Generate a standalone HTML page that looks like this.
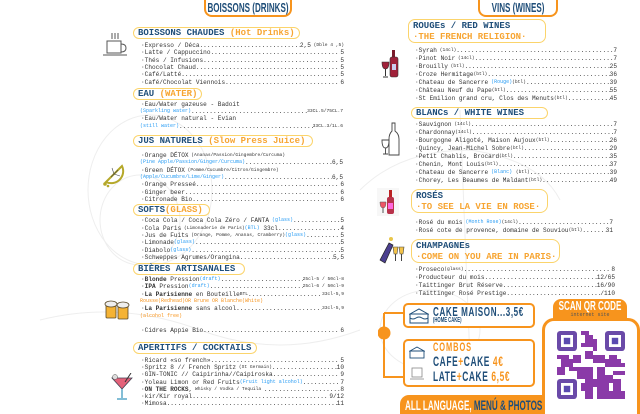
<!DOCTYPE html>
<html><head><meta charset="utf-8">
<style>
*{margin:0;padding:0;box-sizing:border-box}
body{width:640px;height:414px;overflow:hidden;background:#fff;position:relative;font-family:"Liberation Mono",monospace;color:#222}
.a{position:absolute}
.r{position:absolute;display:flex;white-space:nowrap;font-size:6.1px;line-height:7px;height:7px;color:#333}
.L{left:141px;width:203px}
.R{left:415px;width:202px}
.f{flex:1;overflow:hidden}
.f::after{content:"......................................................................................................................................................"}
.b{color:#2a9df4;font-size:5px}
.o{color:#f7941d;font-size:5px}
.s{font-size:4.6px}
.pill{position:absolute;border:1.3px solid #fbd46b;border-radius:8px;font-weight:bold;font-size:9px;line-height:10px;color:#1f4e79;padding:0 4px;white-space:nowrap}
.pill i{font-style:normal;color:#f7a532}
.tab{position:absolute;border:2px solid #f7941d;border-top:none;border-radius:0 0 8px 8px;background:#fff}
.cf{font-family:"Liberation Sans",sans-serif;font-weight:bold;white-space:nowrap}
.cc{position:absolute;left:50%;transform:translateX(-50%) scaleX(.62);white-space:nowrap}
.cond{font-family:"Liberation Sans",sans-serif;font-weight:bold;display:inline-block;transform:scaleX(.68);transform-origin:left center;white-space:nowrap}
.box{position:absolute;border:2.5px solid #f7941d;border-radius:5px;background:#fff}
</style></head><body>

<svg class="a" style="left:0;top:0" width="640" height="414">
<g fill="none" stroke="#eee" stroke-width="1">
<ellipse cx="150" cy="190" rx="62" ry="75"/>
<ellipse cx="140" cy="220" rx="40" ry="45"/>
<path d="M40 320 Q120 300 200 330 T360 330"/>
<ellipse cx="430" cy="330" rx="50" ry="40"/>
<path d="M360 190 Q400 150 470 150 Q540 160 560 200"/>
<path d="M460 110 L470 360"/>
</g></svg>

<div class="tab" style="left:204px;top:0;width:88px;height:17px"><div class="cc cf" style="top:0;font-size:13px;line-height:15px;color:#1f4e79">BOISSONS (DRINKS)</div></div>
<div class="tab" style="left:478px;top:0;width:80px;height:17px"><div class="cc cf" style="top:0;font-size:13px;line-height:15px;color:#1f4e79">VINS (WINES)</div></div>

<!-- LEFT COLUMN -->
<div class="pill" style="left:133px;top:27px;width:167px;height:12px">BOISSONS CHAUDES <i>(Hot Drinks)</i></div>
<div class="r L" style="top:42px">·Expresso / Déca<span class="f"></span>2,5 <span class="s">&nbsp;(Dble 4 ,5)</span></div>
<div class="r L" style="top:49px">·Latte / Cappuccino<span class="f"></span>5</div>
<div class="r L" style="top:57px">·Thés / Infusions<span class="f"></span>5</div>
<div class="r L" style="top:64px">·Chocolat Chaud<span class="f"></span>5</div>
<div class="r L" style="top:71px">·Café/Latté<span class="f"></span>5</div>
<div class="r L" style="top:79px">·Café/Chocolat Viennois<span class="f"></span>6</div>

<div class="pill" style="left:133px;top:88px;width:69px;height:12px">EAU <i>(WATER)</i></div>
<div class="r L" style="top:101px">·Eau/Water gazeuse - Badoit</div>
<div class="r L" style="top:108px;left:140px"><span class="b">(Sparkling water)</span><span class="f"></span><span class="s">33CL.5/75CL.7</span></div>
<div class="r L" style="top:115px">·Eau/Water natural - Evian</div>
<div class="r L" style="top:123px;left:140px"><span class="b">(still water)</span><span class="f"></span><span class="s">33CL.3/1L.6</span></div>

<div class="pill" style="left:133px;top:135px;width:180px;height:12px">JUS NATURELS <i>(Slow Press Juice)</i></div>
<div class="r L" style="top:152px">·Orange DÉTOX <span class="s">&nbsp;(Ananas/Passion/Gingembre/Curcuma)</span></div>
<div class="r L" style="top:159px;left:140px"><span class="b">(Pine Apple/Passion/Ginger/Curcuma)</span><span class="f"></span>6,5</div>
<div class="r L" style="top:167px">·Green DÉTOX <span class="s">&nbsp;(Pomme/Cucumbre/Citron/Gingembre)</span></div>
<div class="r L" style="top:174px;left:140px"><span class="b">(Apple/Cucumbre/Lime/Ginger)</span><span class="f"></span>6,5</div>
<div class="r L" style="top:181px">·Orange Presseé<span class="f"></span>6</div>
<div class="r L" style="top:189px">·Ginger beer<span class="f"></span>6</div>
<div class="r L" style="top:196px">·Citronade Bio<span class="f"></span>6</div>

<div class="pill" style="left:133px;top:204px;width:77px;height:12px">SOFTS<i>(GLASS)</i></div>
<div class="r L" style="top:217px">·Coca Cola / Coca Cola Zéro / FANTA <span class="b">&nbsp;(glass)</span><span class="f"></span>5</div>
<div class="r L" style="top:225px">·Cola Paris <span class="s">&nbsp;(Limonaderie de Paris)</span><span class="b">(BTL)</span>&nbsp;33cl<span class="f"></span>4</div>
<div class="r L" style="top:232px">·Jus de Fuits <span class="s">&nbsp;(Orange, Pomme, Ananas, Cramberry)</span><span class="b">(glass)</span><span class="f"></span>5</div>
<div class="r L" style="top:239px">·Limonade<span class="b">(glass)</span><span class="f"></span>5</div>
<div class="r L" style="top:247px">·Diabolo<span class="b">(glass)</span><span class="f"></span>5</div>
<div class="r L" style="top:254px">·Schweppes Agrumes/Orangina<span class="f"></span>5,5</div>

<div class="pill" style="left:133px;top:263px;width:112px;height:12px">BIÈRES ARTISANALES</div>
<div class="r L" style="top:276px">·<b>Blonde</b>&nbsp;Pression<span class="b">(draft)</span><span class="f"></span><span class="s">25cl-5 / 50cl-8</span></div>
<div class="r L" style="top:283px">·<b>IPA</b>&nbsp;Pression<span class="b">(draft)</span><span class="f"></span><span class="s">25cl-6 / 50cl-9</span></div>
<div class="r L" style="top:291px">·<b>La Parisienne</b>&nbsp;en Bouteille <span class="s">BTL</span><span class="f"></span><span class="s">33cl-5,9</span></div>
<div class="r L" style="top:298px;left:140px"><span class="o">Rousse(Redhead)OR Brune OR Blanche(White)</span></div>
<div class="r L" style="top:305px">·<b>La Parisienne</b>&nbsp;sans alcool<span class="f"></span><span class="s">33cl-5,9</span></div>
<div class="r L" style="top:313px;left:140px"><span class="o">(alcohol free)</span></div>
<div class="r L" style="top:327px">·Cidres Appie Bio<span class="f"></span>6</div>

<div class="pill" style="left:133px;top:342px;width:124px;height:12px">APERITIFS / COCKTAILS</div>
<div class="r L" style="top:357px">·Ricard «so french»<span class="f"></span>5</div>
<div class="r L" style="top:364px">·Spritz 8 // French Spritz <span class="s">&nbsp;(St Germain)</span><span class="f"></span>10</div>
<div class="r L" style="top:371px">·GIN-TONIC // Caipirinha//Caipiroska<span class="f"></span>9</div>
<div class="r L" style="top:379px">·Yoleau Limon or Red Fruits<span class="b">(Fruit light alcohol)</span><span class="f"></span>7</div>
<div class="r L" style="top:386px">·<b>ON THE ROCKS</b>, <span class="s">&nbsp;Whisky / Vodka / Tequila&nbsp;</span><span class="f"></span>8</div>
<div class="r L" style="top:393px">·kir/Kir royal <span class="f"></span>9/12</div>
<div class="r L" style="top:400px">·Mimosa <span class="f"></span>11</div>

<!-- left icons -->
<svg class="a" style="left:102px;top:32px" width="28" height="26"><g stroke="#555" fill="none" stroke-width="1"><path d="M10 1v6M13 1v6M16 1v6"/><rect x="5" y="9" width="14" height="12" fill="#fff"/><path d="M19 12 q5 0 5 4 q0 4-5 4"/><path d="M1 23h24"/></g></svg>
<svg class="a" style="left:101px;top:163px" width="24" height="25"><path d="M5 19 L21 3 A12 12 0 0 1 5 19Z" fill="#fff" stroke="#b5a82a" stroke-width="2"/><path d="M10 14 L17 7 M13 11 L19 13 M13 11 L11 5" stroke="#444" stroke-width=".6"/><circle cx="4" cy="21" r="1.8" fill="#b5a82a"/><circle cx="7" cy="23" r="1.3" fill="#b5a82a"/></svg>
<svg class="a" style="left:103px;top:299px" width="29" height="23"><g stroke="#5a4a2a" stroke-width=".8"><rect x="3" y="6" width="10" height="13" rx="1" fill="#f5b335"/><rect x="15" y="7" width="10" height="13" rx="1" fill="#f5b335"/><ellipse cx="8" cy="5" rx="6" ry="3" fill="#eee"/><ellipse cx="20" cy="6" rx="6" ry="3" fill="#eee"/></g></svg>
<svg class="a" style="left:110px;top:373px" width="24" height="28"><path d="M2 5 L22 5 L12 16Z" fill="#e4627a" stroke="#445" stroke-width=".8"/><path d="M12 16 V25 M7 26 H17" stroke="#5aa8c8" stroke-width="1.5"/><circle cx="5" cy="4" r="2.5" fill="#ddd" stroke="#555" stroke-width=".5"/><path d="M15 9 L21 0" stroke="#333"/></svg>

<!-- RIGHT COLUMN -->
<div class="pill" style="left:408px;top:19px;width:138px;height:24px;border-radius:7px;line-height:11px;padding-top:1px">ROUGEs / RED WINES<br><i>·THE FRENCH RELIGION·</i></div>
<div class="r R" style="top:47px">·Syrah <span class="s">&nbsp;(14cl)</span><span class="f"></span>7</div>
<div class="r R" style="top:55px">·Pinot Noir <span class="s">&nbsp;(14cl)</span><span class="f"></span>7</div>
<div class="r R" style="top:63px">·Brouilly <span class="s">&nbsp;(btl)</span><span class="f"></span>25</div>
<div class="r R" style="top:71px">·Croze Hermitage <span class="s">(btl)</span><span class="f"></span>36</div>
<div class="r R" style="top:79px">·Chateau de Sancerre <span class="b">&nbsp;(Rouge)</span><span class="s">(btl)</span><span class="f"></span>39</div>
<div class="r R" style="top:87px">·Château Neuf du Pape <span class="s">(btl)</span><span class="f"></span>55</div>
<div class="r R" style="top:95px">·St Emilion grand cru, Clos des Menuts<span class="s">(btl)</span><span class="f"></span>45</div>

<div class="pill" style="left:411px;top:107px;width:137px;height:12px">BLANCs / WHITE WINES</div>
<div class="r R" style="top:121px">·Sauvignon <span class="s">&nbsp;(14cl)</span><span class="f"></span>7</div>
<div class="r R" style="top:129px">·Chardonnay<span class="s">(14cl)</span><span class="f"></span>7</div>
<div class="r R" style="top:137px">·Bourgogne Aligoté, Maison Aujoux <span class="s">(btl)</span><span class="f"></span>26</div>
<div class="r R" style="top:145px">·Quincy, Jean-Michel Sobre <span class="s">(btl)</span><span class="f"></span>29</div>
<div class="r R" style="top:153px">·Petit Chablis, Brocard <span class="s">(btl)</span><span class="f"></span>35</div>
<div class="r R" style="top:161px">·Chenin, Mont Louis <span class="s">(btl)</span><span class="f"></span>37</div>
<div class="r R" style="top:169px">·Chateau de Sancerre <span class="b">&nbsp;(Blanc)</span>&nbsp;<span class="s">(btl)</span><span class="f"></span>39</div>
<div class="r R" style="top:177px">·Chorey, Les Beaumes de Maldant <span class="s">(btl)</span><span class="f"></span>49</div>

<div class="pill" style="left:411px;top:189px;width:137px;height:24px;line-height:11px;padding-top:1px">ROSÉS<br><i>·TO SEE LA VIE EN ROSE·</i></div>
<div class="r R" style="top:219px;width:198px">·Rosé du mois <span class="b">&nbsp;(Month Rose)</span><span class="s">(14cl)</span><span class="f"></span>7</div>
<div class="r R" style="top:227px;width:198px">·Rosé cote de provence, domaine de Souviou <span class="s">(btl)</span><span class="f"></span>31</div>

<div class="pill" style="left:411px;top:239px;width:149px;height:24px;line-height:11px;padding-top:1px">CHAMPAGNEs<br><i>·COME ON YOU ARE IN PARIS·</i></div>
<div class="r R" style="top:266px;width:200px">·Proseco<span class="s">(glass)</span><span class="f"></span>8</div>
<div class="r R" style="top:274px;width:200px">·Producteur du mois<span class="f"></span>12/65</div>
<div class="r R" style="top:282px;width:200px">·Taittinger Brut Réserve<span class="f"></span>16/90</div>
<div class="r R" style="top:290px;width:200px">·Taittinger Rosé Prestige<span class="f"></span>/110</div>

<!-- right icons -->
<svg class="a" style="left:381px;top:50px" width="20" height="28"><rect x="11" y="0" width="3" height="7" fill="#7a1b2b"/><rect x="9" y="7" width="8" height="20" rx="2" fill="#a0213a" stroke="#333" stroke-width=".6"/><rect x="11" y="14" width="4" height="6" fill="#cce"/><path d="M1 12 h7 q0 7-3.5 7 q-3.5 0-3.5-7z" fill="#a0213a" stroke="#333" stroke-width=".6"/><path d="M4.5 19 v7 M2 27 h5" stroke="#333"/></svg>
<svg class="a" style="left:381px;top:122px" width="19" height="34"><g fill="none" stroke="#444" stroke-width=".9"><path d="M11 1 h3 v8 q4 3 4 8 v16 h-10 v-16 q0-5 3-8z"/><path d="M1 18 h7 q0 8-3.5 8 q-3.5 0-3.5-8z M4.5 26 v6 M2 32 h5"/></g></svg>
<svg class="a" style="left:377px;top:188px" width="22" height="28"><rect x="0" y="0" width="22" height="28" fill="#f7f7f7"/><rect x="12" y="2" width="3" height="7" fill="#b22"/><rect x="10" y="9" width="7" height="17" rx="2" fill="#b8324a"/><rect x="11" y="15" width="5" height="6" fill="#f6d"/><path d="M3 14 h6 q0 6-3 6 q-3 0-3-6z" fill="#e56" stroke="#555" stroke-width=".5"/><path d="M6 20 v5" stroke="#555"/></svg>
<svg class="a" style="left:377px;top:235px" width="28" height="29"><path d="M3 25 L12 8 L16 10 L8 28Z" fill="#4b3f8f" stroke="#222" stroke-width=".7"/><circle cx="14" cy="4" r="2" fill="#e9c64a"/><path d="M16 12 h5 l-1 7 h-3z M22 12 h5 l-1 7 h-3z" fill="#f3c34a" stroke="#444" stroke-width=".6"/><path d="M18.5 19 v7 M24.5 19 v7" stroke="#444"/></svg>

<!-- cake / combos -->
<svg class="a" style="left:378px;top:305px" width="30" height="80"><path d="M6 8 H26 M6 8 V72 H26" fill="none" stroke="#f7941d" stroke-width="2"/><circle cx="6" cy="28" r="6.5" fill="#f7941d"/></svg>
<div class="box" style="left:403px;top:303px;width:132px;height:25px">
<svg class="a" style="left:4px;top:3px" width="20" height="16"><g fill="none" stroke="#1f4e79" stroke-width="1"><path d="M1 6 L10 1 L19 6 Z"/><rect x="1" y="6" width="18" height="9"/><path d="M1 10 q3 2 6 0 t6 0 t6 0"/></g></svg>
<div class="a" style="left:28px;top:0px;color:#1f4e79;font-size:13px;line-height:13px"><span class="cond" style="transform:scaleX(.62);letter-spacing:1px">CAKE MAISON...3,5€</span></div>
<div class="a" style="left:28px;top:12px;color:#1f4e79;font-size:7px"><span class="cond" style="transform:scaleX(.6)">(HOME CAKE)</span></div>
</div>
<div class="box" style="left:403px;top:339px;width:132px;height:48px">
<svg class="a" style="left:4px;top:5px" width="16" height="34"><g fill="none" stroke="#1f4e79" stroke-width=".9"><path d="M1 5 L8 1 L15 5 Z"/><rect x="1" y="5" width="14" height="7"/></g><g fill="none" stroke="#888" stroke-width=".8"><rect x="3" y="22" width="10" height="9"/><path d="M1 33 h14"/></g></svg>
<div class="a" style="left:28px;top:0px;color:#f7941d;font-size:12px;line-height:12px"><span class="cond" style="transform:scaleX(.62);letter-spacing:1.5px">COMBOS</span></div>
<div class="a" style="left:28px;top:13px;color:#1f4e79;font-size:14px;line-height:14px"><span class="cond" style="transform:scaleX(.6);letter-spacing:1px">CAFE<span style="color:#f7941d">+</span>CAKE <span style="color:#f7941d">4€</span></span></div>
<div class="a" style="left:28px;top:28px;color:#1f4e79;font-size:14px;line-height:14px"><span class="cond" style="transform:scaleX(.6);letter-spacing:1px">LATE<span style="color:#f7941d">+</span>CAKE <span style="color:#f7941d">6,5€</span></span></div>
</div>

<div class="a" style="left:400px;top:395px;width:145px;height:19px;background:#f7941d;border-radius:9px 0 0 0;overflow:hidden"><div class="a cf" style="left:5px;top:1px;font-size:14px;line-height:18px;color:#fff;transform:scaleX(.58);transform-origin:left center">ALL LANGUAGE, <span style="color:#1f4e79">MENÚ &amp; PHOTOS</span></div></div>

<!-- QR -->
<div class="a" style="left:553px;top:299px;width:74px;height:20px;background:#f7941d;border-radius:8px 8px 0 0;color:#fff">
<div class="cc cf" style="top:1px;font-size:13px;line-height:12px">SCAN QR CODE</div>
<div class="a" style="left:0;top:13px;width:74px;text-align:center;font-family:'Liberation Mono',monospace;font-size:5px;line-height:6px;color:#555">internet site</div>
</div>
<div class="a" style="left:542px;top:318px;width:98px;height:96px;border:3px solid #f7941d;border-bottom:none;border-radius:12px 12px 0 0;background:#fff"></div>
<svg class="a" style="left:557px;top:330px" width="68" height="70" viewBox="0 0 17 17">
<g fill="#6a4aa8">
<rect x="0" y="0" width="5" height="5" rx=".8"/><rect x="12" y="0" width="5" height="5" rx=".8"/><rect x="0" y="12" width="5" height="5" rx=".8"/>
</g>
<g fill="#fff"><rect x="1" y="1" width="3" height="3"/><rect x="13" y="1" width="3" height="3"/><rect x="1" y="13" width="3" height="3"/></g>
<g fill="#5a4ab0"><rect x="1.7" y="1.7" width="1.6" height="1.6"/><rect x="13.7" y="1.7" width="1.6" height="1.6"/><rect x="1.7" y="13.7" width="1.6" height="1.6"/></g>
<g fill="#8a3aa8">
<rect x="6" y="0" width="2" height="1"/><rect x="7" y="1" width="2" height="2"/><rect x="6" y="3" width="3" height="1"/><rect x="9" y="2" width="1" height="3"/><rect x="7" y="5" width="2" height="2"/>
<rect x="0" y="6" width="3" height="1"/><rect x="1" y="7" width="3" height="2"/><rect x="4" y="6" width="2" height="2"/><rect x="0" y="9" width="2" height="2"/><rect x="3" y="9" width="4" height="1"/><rect x="5" y="10" width="2" height="2"/>
<rect x="9" y="6" width="3" height="2"/><rect x="13" y="6" width="2" height="1"/><rect x="12" y="7" width="4" height="2"/><rect x="10" y="9" width="2" height="3"/><rect x="14" y="10" width="3" height="1"/><rect x="15" y="8" width="2" height="1"/>
<rect x="7" y="9" width="2" height="4"/><rect x="6" y="13" width="3" height="2"/><rect x="9" y="12" width="4" height="2"/><rect x="12" y="11" width="2" height="2"/><rect x="10" y="14" width="3" height="3"/><rect x="14" y="12" width="2" height="3"/><rect x="13" y="15" width="4" height="2"/><rect x="7" y="15" width="2" height="2"/>
</g>
</svg>

</body></html>
